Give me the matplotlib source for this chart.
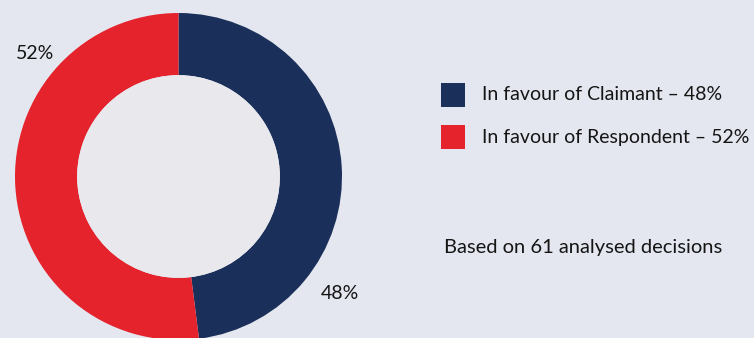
import matplotlib
matplotlib.use("Agg")
import matplotlib.pyplot as plt
from matplotlib.patches import Circle, Rectangle

categories = ["In favour of Claimant", "In favour of Respondent"]
values = [48, 52]
colors = ["#1a2f59", "#e4232c"]
note = "Based on 61 analysed decisions"

BG = "#e4e7ef"
INNER = "#e8e8ed"
FONT = "Lato"
TXT = "#151515"

W, H = 754, 338
fig = plt.figure(figsize=(W / 100, H / 100), dpi=100)
fig.patch.set_facecolor(BG)

cx, cy, R = 178.5, 176.5, 163.5
ax = fig.add_axes([(cx - R) / W, (H - cy - R) / H, 2 * R / W, 2 * R / H])
ax.set_xlim(-1, 1)
ax.set_ylim(-1, 1)
ax.set_aspect("equal")
ax.axis("off")

ax.pie(values, colors=colors, startangle=90, counterclock=False, radius=1,
       wedgeprops=dict(width=0.38, linewidth=0))
ax.add_patch(Circle((0, 0), 0.62, facecolor=INNER, edgecolor="none", zorder=3))
ax.set_xlim(-1, 1)
ax.set_ylim(-1, 1)

# percentage labels
ax.text(0.988, -0.713, f"{values[0]}%", ha="center", va="center",
        fontsize=14, family=FONT, color=TXT)
ax.text(-0.878, 0.755, f"{values[1]}%", ha="center", va="center",
        fontsize=14, family=FONT, color=TXT)

# legend
for i, (cat, v, c) in enumerate(zip(categories, values, colors)):
    ytop = 83 + i * 42
    fig.patches.append(Rectangle((441 / W, 1 - (ytop + 24) / H), 24 / W, 24 / H,
                                 transform=fig.transFigure, facecolor=c,
                                 edgecolor="none"))
    fig.text(482 / W, 1 - (ytop + 12) / H, f"{cat} \u2013 {v}%", ha="left",
             va="center", fontsize=14, family=FONT, color=TXT)

fig.text(444 / W, 1 - 247 / H, note, ha="left", va="center", fontsize=14.5,
         family=FONT, color=TXT)

fig.savefig("out.png", dpi=100, facecolor=BG)
